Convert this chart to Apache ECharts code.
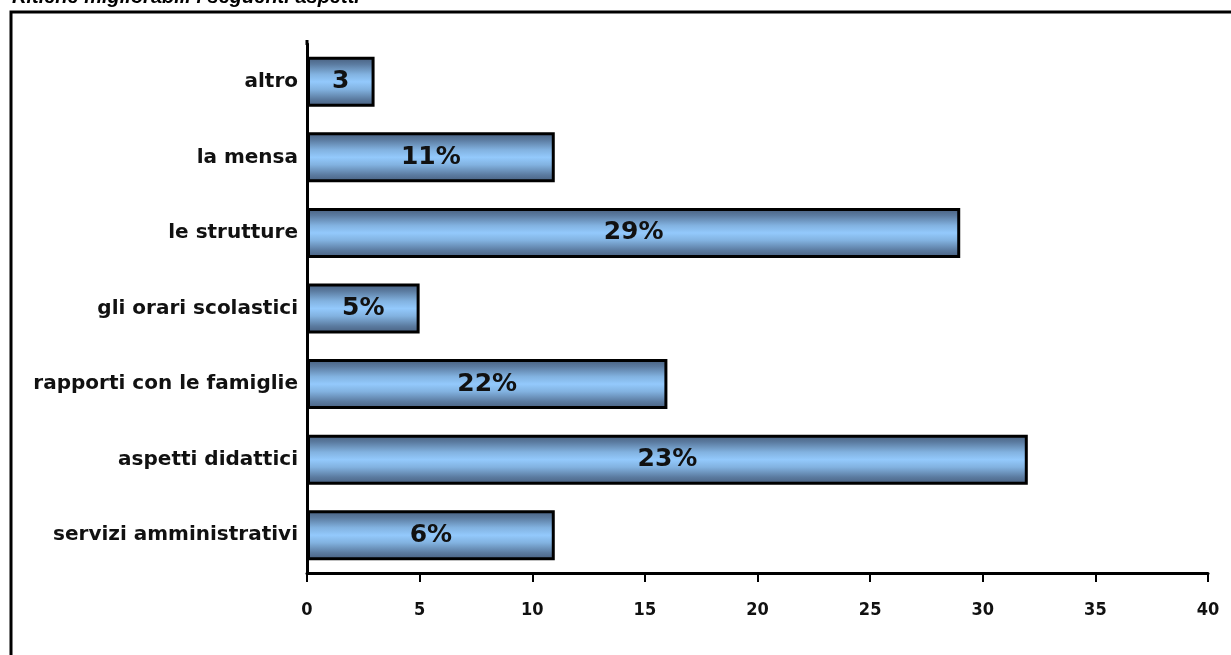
<!DOCTYPE html>
<html>
<head>
<meta charset="utf-8">
<script src="https://cdn.jsdelivr.net/npm/echarts@6/dist/echarts.min.js"></script>
<style>
html,body{margin:0;padding:0;background:#fff;}
#chart{width:1231px;height:655px;}
</style>
</head>
<body>
<div id="chart"></div>
<script>
var titleText = 'Ritiene migliorabili i seguenti aspetti';
var categories = ['altro', 'la mensa', 'le strutture', 'gli orari scolastici', 'rapporti con le famiglie', 'aspetti didattici', 'servizi amministrativi'];
var values = [3, 11, 29, 5, 16, 32, 11];
var barLabels = ['3', '11%', '29%', '5%', '22%', '23%', '6%'];
var xTicks = [0, 5, 10, 15, 20, 25, 30, 35, 40];

var chart = echarts.init(document.getElementById('chart'), null, {renderer: 'canvas'});
var grad = new echarts.graphic.LinearGradient(0, 0, 0, 1, [
  {offset: 0, color: '#465d7c'},
  {offset: 0.15, color: '#5b7ba0'},
  {offset: 0.35, color: '#82b2e0'},
  {offset: 0.5, color: '#93c9fc'},
  {offset: 0.65, color: '#82b2e0'},
  {offset: 0.85, color: '#5b7ba0'},
  {offset: 1, color: '#465d7c'}
]);
var option = {
  animation: false,
  backgroundColor: '#ffffff',
  graphic: [
    {type: 'rect', shape: {x: 11, y: 12, width: 1240, height: 660}, style: {fill: 'none', stroke: '#000', lineWidth: 3}, silent: true},
    {type: 'line', shape: {x1: 307, y1: 40, x2: 307, y2: 45}, style: {stroke: '#000', lineWidth: 3}, silent: true},
    {type: 'text', left: 12, top: -13, style: {text: titleText, font: 'italic bold 20px "Liberation Sans", Arial, sans-serif', fill: '#000'}, silent: true}
  ],
  grid: {left: 307, right: 23, top: 44, bottom: 82, containLabel: false},
  xAxis: {
    type: 'value', min: 0, max: 40, interval: 5,
    axisLine: {show: true, lineStyle: {color: '#000', width: 3}},
    axisTick: {show: true, length: 9, lineStyle: {color: '#000', width: 2}},
    splitLine: {show: false},
    axisLabel: {
      margin: 28, color: '#111',
      fontFamily: '"Liberation Sans Narrow", "DejaVu Sans Condensed", sans-serif',
      fontWeight: 'bold', fontSize: 18,
      formatter: function (v) { return xTicks.indexOf(v) >= 0 ? String(v) : ''; }
    }
  },
  yAxis: {
    type: 'category', data: categories, inverse: true,
    axisLine: {show: true, lineStyle: {color: '#000', width: 3}},
    axisTick: {show: false},
    axisLabel: {margin: 9, color: '#111', fontFamily: '"DejaVu Sans", Verdana, sans-serif', fontWeight: 'bold', fontSize: 20}
  },
  series: [{
    type: 'bar',
    data: values,
    barWidth: 50,
    itemStyle: {color: grad, borderColor: '#000', borderWidth: 3},
    label: {
      show: true, position: 'inside', color: '#111',
      fontFamily: '"DejaVu Sans", Verdana, sans-serif', fontWeight: 'bold', fontSize: 25,
      formatter: function (p) { return barLabels[p.dataIndex]; }
    }
  }]
};
chart.setOption(option);
</script>
</body>
</html>
